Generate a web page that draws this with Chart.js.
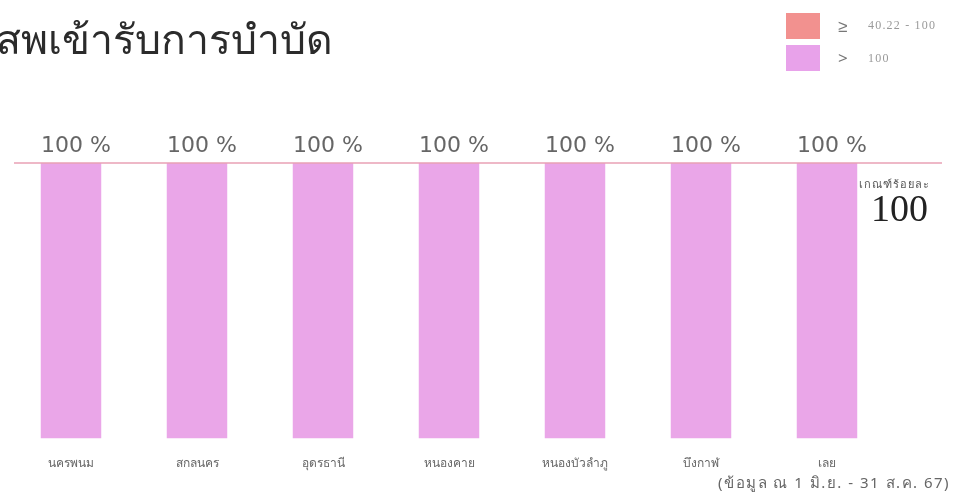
<!DOCTYPE html>
<html>
<head>
<meta charset="utf-8">
<script src="https://cdn.jsdelivr.net/npm/chart.js@4"></script>
<style>
  html,body{margin:0;padding:0;background:#fff;}
  #wrap{position:relative;width:961px;height:494px;overflow:hidden;font-family:"Noto Sans",sans-serif;}
  #title{position:absolute;left:-4px;top:7px;font-size:41px;font-weight:500;color:#2b2b2b;white-space:nowrap;}
  .lg{position:absolute;left:786px;width:34px;height:26px;}
  .lgs{position:absolute;left:838px;font-size:17px;color:#777;}
  .lgt{position:absolute;left:868px;font-size:12px;letter-spacing:1.2px;color:#999;font-family:"Liberation Serif",serif;}
  #note{position:absolute;left:718px;top:471px;font-size:15px;letter-spacing:1.5px;color:#666;white-space:nowrap;}
  #crit{position:absolute;left:859px;top:175px;font-size:11px;letter-spacing:1px;color:#555;}
  #critv{position:absolute;left:871px;top:186px;font-size:38px;color:#222;font-family:"Liberation Serif",serif;}
  canvas{position:absolute;left:0;top:0;}
</style>
</head>
<body>
<div id="wrap">
  <canvas id="c" width="961" height="494"></canvas>
  <div id="title">สพเข้ารับการบำบัด</div>
  <div class="lg" style="top:13px;background:#f2918f"></div>
  <div class="lgs" style="top:14px">≥</div>
  <div class="lgt" style="top:18px">40.22 - 100</div>
  <div class="lg" style="top:45px;background:#e8a2ea"></div>
  <div class="lgs" style="top:46px">&gt;</div>
  <div class="lgt" style="top:51px">100</div>
  <div id="crit">เกณฑ์ร้อยละ</div>
  <div id="critv">100</div>
  <div id="note">(ข้อมูล ณ 1 มิ.ย. - 31 ส.ค. 67)</div>
</div>
<script>
const provinces = ['นครพนม','สกลนคร','อุดรธานี','หนองคาย','หนองบัวลำภู','บึงกาฬ','เลย'];
const percents = [100,100,100,100,100,100,100];
const target = 100;

// value labels + target line
const extras = {
  id:'extras',
  afterDatasetsDraw(chart){
    const ctx = chart.ctx, y = chart.scales.y, meta = chart.getDatasetMeta(0);
    const ly = y.getPixelForValue(target);
    ctx.save();
    ctx.strokeStyle = '#e8a0b4'; ctx.lineWidth = 1.5;
    ctx.beginPath(); ctx.moveTo(14, ly); ctx.lineTo(942, ly); ctx.stroke();
    ctx.fillStyle = '#666'; ctx.font = '22px "DejaVu Sans", sans-serif';
    ctx.textAlign = 'center'; ctx.textBaseline = 'bottom';
    meta.data.forEach((b,i)=>{ ctx.fillText(percents[i] + ' %', b.x + 5, b.y - 6); });
    ctx.restore();
  }
};

new Chart(document.getElementById('c'), {
  type:'bar',
  data:{ labels:provinces, datasets:[{ data:percents, backgroundColor:'#eaa6e8', borderWidth:0 }]},
  options:{
    responsive:false, animation:false,
    layout:{ padding:{ left:8, right:71, top:163, bottom:13 } },
    plugins:{ legend:{display:false}, tooltip:{enabled:false} },
    scales:{
      x:{ grid:{display:false}, border:{display:false},
          ticks:{ color:'#666', font:{size:12, family:'"Noto Sans", sans-serif'}, padding:10, maxRotation:0 } },
      y:{ display:false, min:0, max:100 }
    },
    datasets:{ bar:{ categoryPercentage:1, barPercentage:0.48 } }
  },
  plugins:[extras]
});
</script>
</body>
</html>
